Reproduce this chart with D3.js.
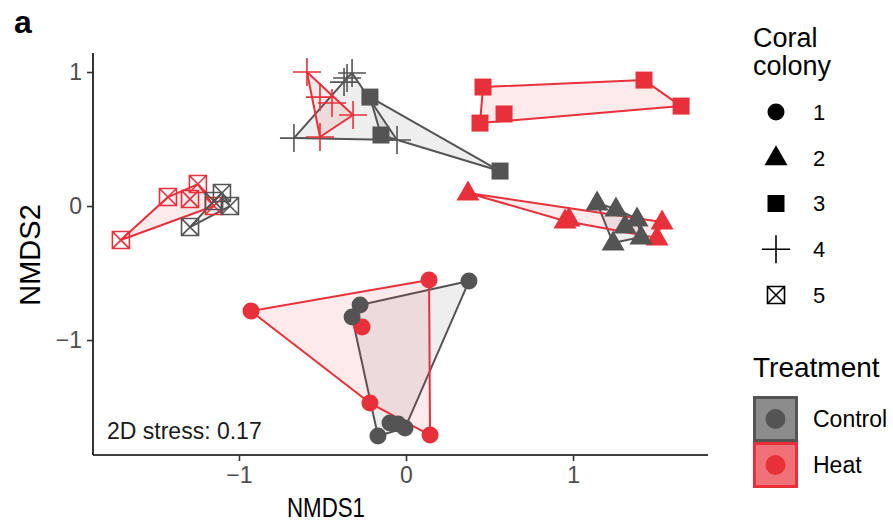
<!DOCTYPE html>
<html>
<head>
<meta charset="utf-8">
<script src="https://cdn.jsdelivr.net/npm/d3@7"></script>
<style>
  body { margin: 0; background: #fff; }
  svg { display: block; font-family: "Liberation Sans", Arial, sans-serif; }
</style>
</head>
<body>
<svg width="893" height="523"></svg>
<script>
// NMDS scores, grouped by colony and treatment
var colony    = [1,1,1,1,1, 1,1,1,1,1,1,1,
                 2,2,2,2,2, 2,2,2,2,2,2,
                 3,3,3,3,3, 3,3,3,
                 4,4,4,4,4, 4,4,4,4,4,
                 5,5,5,5,5, 5,5,5,5];
var treatment = ["Heat","Heat","Heat","Heat","Heat", "Control","Control","Control","Control","Control","Control","Control",
                 "Heat","Heat","Heat","Heat","Heat", "Control","Control","Control","Control","Control","Control",
                 "Heat","Heat","Heat","Heat","Heat", "Control","Control","Control",
                 "Heat","Heat","Heat","Heat","Heat", "Control","Control","Control","Control","Control",
                 "Heat","Heat","Heat","Heat","Heat", "Control","Control","Control","Control"];
var nmds1 = [-0.928, 0.138, -0.263, -0.216, 0.144,   0.377, -0.275, -0.323, -0.168, -0.096, -0.006, -0.048,
             0.371, 0.952, 0.976, 1.533, 1.503,      1.144, 1.257, 1.383, 1.240, 1.407, 1.311,
             0.461, 1.425, 1.647, 0.587, 0.443,      -0.216, -0.150, 0.563,
             -0.593, -0.317, -0.515, -0.515, -0.443, -0.671, -0.353, -0.323, -0.371, -0.054,
             -1.707, -1.425, -1.246, -1.293, -1.150, -1.102, -1.054, -1.293, -1.150];
var nmds2 = [-0.784, -0.552, -0.903, -1.470, -1.709,  -0.560, -0.739, -0.828, -1.716, -1.619, -1.657, -1.627,
             0.097, -0.112, -0.097, -0.119, -0.239,   0.022, -0.022, -0.097, -0.276, -0.231, -0.149,
             0.888, 0.940, 0.746, 0.687, 0.619,       0.813, 0.530, 0.261,
             1.000, 0.679, 0.515, 0.813, 0.769,       0.507, 0.955, 0.993, 0.925, 0.493,
             -0.254, 0.067, 0.164, 0.052, 0.000,      0.097, 0.000, -0.157, 0.037];

var colonies   = [1, 2, 3, 4, 5];
var treatments = ["Control", "Heat"];
var xTicks = [-1, 0, 1];
var yTicks = [-1, 0, 1];
var stressLabel = "2D stress: 0.17";

var svg = d3.select("svg");
var red = "#e8303a", grey = "#545454";
var colour = d3.scaleOrdinal().domain(treatments).range([grey, red]);

var x = d3.scaleLinear().domain([-1.874, 1.808]).range([93, 708]);
var y = d3.scaleLinear().domain([-1.858, 1.142]).range([455, 53]);

var points = nmds1.map(function(v, i){
    return {colony: colony[i], treatment: treatment[i], px: x(v), py: y(nmds2[i])};
});

// shape path per colony, centred on 0,0
function shape(c){
    if (c === 1) return d3.symbol(d3.symbolCircle, Math.PI * 8.5 * 8.5)();
    if (c === 2) return "M0,-12.5L11.5,7.5L-11.5,7.5Z";
    if (c === 3) return "M-8.5,-8.5H8.5V8.5H-8.5Z";
    if (c === 4) return "M-14,0H14M0,-14V14";
    return "M-8.5,-8.5H8.5V8.5H-8.5ZM-8.5,-8.5L8.5,8.5M8.5,-8.5L-8.5,8.5";
}
function filled(c){ return c <= 3; }

// hulls
var hullG = svg.append("g");
colonies.forEach(function(c){
    treatments.forEach(function(t){
        var pts = points.filter(function(d){ return d.colony === c && d.treatment === t; })
                        .map(function(d){ return [d.px, d.py]; });
        var hull = d3.polygonHull(pts);
        hullG.append("path")
            .attr("d", "M" + hull.join("L") + "Z")
            .attr("fill", colour(t))
            .attr("fill-opacity", 0.1)
            .attr("stroke", colour(t))
            .attr("stroke-width", 2)
            .attr("stroke-linejoin", "round");
    });
});

// points
svg.append("g").selectAll("path")
    .data(points)
    .enter().append("path")
    .attr("transform", function(d){ return "translate(" + d.px + "," + d.py + ")"; })
    .attr("d", function(d){ return shape(d.colony); })
    .attr("fill", function(d){ return filled(d.colony) ? colour(d.treatment) : "none"; })
    .attr("stroke", function(d){ return filled(d.colony) ? "none" : colour(d.treatment); })
    .attr("stroke-width", 1.6);

// axes
var fmt = function(d){ return d < 0 ? "\u2212" + (-d) : d; };
var xAxis = svg.append("g")
    .attr("transform", "translate(0,455)")
    .call(d3.axisBottom(x).tickValues(xTicks).tickSize(6).tickPadding(6).tickSizeOuter(0).tickFormat(fmt));
var yAxis = svg.append("g")
    .attr("transform", "translate(93,0)")
    .call(d3.axisLeft(y).tickValues(yTicks).tickSize(6).tickPadding(5).tickSizeOuter(0).tickFormat(fmt));
[xAxis, yAxis].forEach(function(a){
    a.select(".domain").attr("stroke", "#000").attr("stroke-width", 1.6);
    a.selectAll(".tick line").attr("stroke", "#333").attr("stroke-width", 1.6);
    a.selectAll(".tick text").attr("fill", "#4d4d4d").style("font-size", "23px");
});
xAxis.select(".domain").attr("d", "M93,0H708");
yAxis.select(".domain").attr("d", "M0,53V455");

svg.append("text")
    .attr("x", 326).attr("y", 517)
    .attr("text-anchor", "middle")
    .attr("textLength", 78).attr("lengthAdjust", "spacingAndGlyphs")
    .style("font-size", "28px")
    .text("NMDS1");
svg.append("text")
    .attr("transform", "translate(40,255) rotate(-90)")
    .attr("text-anchor", "middle")
    .style("font-size", "29px")
    .text("NMDS2");

svg.append("text")
    .attr("x", 107).attr("y", 439)
    .style("font-size", "23px")
    .attr("fill", "#1a1a1a")
    .text(stressLabel);

svg.append("text")
    .attr("x", 14).attr("y", 33)
    .style("font-size", "32px").style("font-weight", "bold")
    .text("a");

// legend: coral colony
var leg = svg.append("g");
leg.append("text").attr("x", 753).attr("y", 47).style("font-size", "27px").text("Coral");
leg.append("text").attr("x", 753).attr("y", 75).style("font-size", "27px").text("colony");
var legY = d3.scalePoint().domain(colonies).range([112, 295]);
colonies.forEach(function(c){
    leg.append("path")
        .attr("transform", "translate(776," + legY(c) + ")")
        .attr("d", shape(c))
        .attr("fill", filled(c) ? "#000" : "none")
        .attr("stroke", filled(c) ? "none" : "#000")
        .attr("stroke-width", 1.6);
    leg.append("text")
        .attr("x", 813).attr("y", legY(c)).attr("dy", "0.36em")
        .style("font-size", "22px")
        .text(c);
});

// legend: treatment
leg.append("text").attr("x", 753).attr("y", 377).style("font-size", "28px").text("Treatment");
var keyFill = d3.scaleOrdinal().domain(treatments).range(["#8c8c8c", "#f07178"]);
treatments.forEach(function(t, i){
    var top = 396 + i * 46;
    leg.append("rect")
        .attr("x", 754.5).attr("y", top + 1.5)
        .attr("width", 42).attr("height", 43)
        .attr("fill", keyFill(t))
        .attr("stroke", colour(t))
        .attr("stroke-width", 3);
    leg.append("circle")
        .attr("cx", 775.5).attr("cy", top + 23)
        .attr("r", 10)
        .attr("fill", colour(t));
    leg.append("text")
        .attr("x", 813).attr("y", top + 23).attr("dy", "0.36em")
        .style("font-size", "23px")
        .text(t);
});
</script>
</body>
</html>
